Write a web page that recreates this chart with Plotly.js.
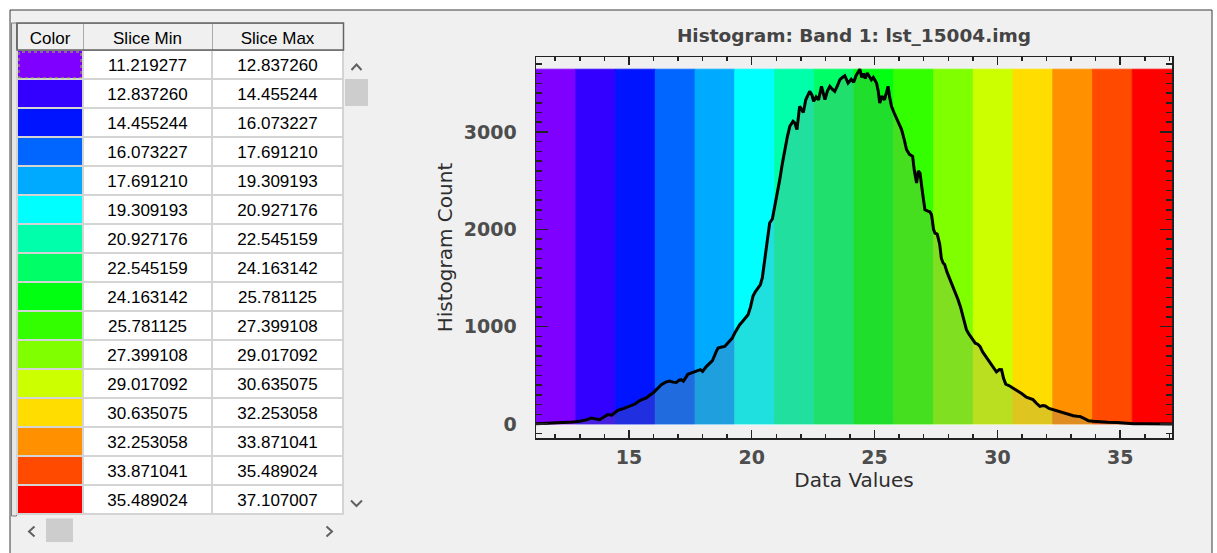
<!DOCTYPE html>
<html>
<head>
<meta charset="utf-8">
<script src="https://cdn.plot.ly/plotly-3.0.1.min.js"></script>
<style>
  html, body { margin: 0; padding: 0; background: #ffffff; }
  #chart { width: 1217px; height: 553px; }
</style>
</head>
<body>
<div id="chart"></div>
<script>
// Density slice ranges and their colours
const sliceMin = [11.219277, 12.837260, 14.455244, 16.073227, 17.691210, 19.309193, 20.927176, 22.545159,
                  24.163142, 25.781125, 27.399108, 29.017092, 30.635075, 32.253058, 33.871041, 35.489024];
const sliceMax = [12.837260, 14.455244, 16.073227, 17.691210, 19.309193, 20.927176, 22.545159, 24.163142,
                  25.781125, 27.399108, 29.017092, 30.635075, 32.253058, 33.871041, 35.489024, 37.107007];
const sliceColors = ['#7f00ff', '#3300ff', '#0014ff', '#0066ff', '#00aaff', '#00ffff', '#00ffaa', '#00ff66',
                     '#00ff11', '#33ff00', '#80ff00', '#ccff00', '#ffdd00', '#ff9100', '#ff4a00', '#ff0000'];
const tableHeader = ['Color', 'Slice Min', 'Slice Max'];

// Histogram of band 1 (data value, pixel count)
const histX = [11.22, 11.6, 11.91, 12.3, 12.72, 13.0, 13.13, 13.3, 13.47, 13.65, 13.81, 14.0, 14.14, 14.3, 14.45,
  14.55, 14.8, 15.03, 15.25, 15.44, 15.6, 15.71, 15.85, 15.98, 16.15, 16.32, 16.5, 16.66, 16.8, 16.93, 17.05,
  17.13, 17.22, 17.4, 17.55, 17.67, 17.8, 17.91, 18.0, 18.15, 18.29, 18.4, 18.55, 18.63, 18.78, 18.9, 19.0,
  19.1, 19.2, 19.31, 19.4, 19.51, 19.65, 19.85, 19.95, 20.05, 20.15, 20.25, 20.35, 20.43, 20.5, 20.57, 20.65,
  20.73, 20.84, 20.94, 21.0, 21.14, 21.25, 21.34, 21.45, 21.55, 21.68, 21.76, 21.84, 21.95, 22.03, 22.1, 22.2,
  22.36, 22.45, 22.52, 22.62, 22.72, 22.84, 22.91, 22.98, 23.08, 23.18, 23.28, 23.38, 23.48, 23.59, 23.69,
  23.79, 23.92, 24.05, 24.15, 24.25, 24.4, 24.48, 24.55, 24.62, 24.7, 24.8, 24.87, 24.95, 25.08, 25.15, 25.21,
  25.3, 25.4, 25.48, 25.55, 25.62, 25.69, 25.79, 25.89, 26.0, 26.1, 26.2, 26.3, 26.42, 26.55, 26.62, 26.71,
  26.78, 26.85, 26.95, 27.05, 27.15, 27.25, 27.32, 27.4, 27.46, 27.55, 27.65, 27.72, 27.79, 27.85, 27.95,
  28.05, 28.13, 28.25, 28.4, 28.5, 28.6, 28.74, 28.85, 29.01, 29.1, 29.2, 29.29, 29.4, 29.56, 29.69, 29.85,
  29.96, 30.08, 30.17, 30.25, 30.34, 30.5, 30.64, 30.75, 30.9, 31.0, 31.18, 31.3, 31.45, 31.6, 31.73, 31.85,
  31.95, 32.1, 32.27, 32.45, 32.68, 32.85, 32.95, 33.09, 33.25, 33.36, 33.5, 33.6, 33.7, 33.9, 34.18, 34.5,
  34.86, 35.2, 35.54, 36.0, 36.5, 37.1];
const histY = [2, 5, 8, 12, 20, 28, 34, 45, 62, 50, 44, 75, 96, 90, 125,
  140, 160, 181, 205, 240, 255, 267, 295, 318, 360, 404, 430, 440, 430, 427, 450,
  455, 440, 510, 525, 540, 548, 558, 540, 590, 627, 650, 740, 781, 790, 797, 825,
  849, 880, 935, 975, 1020, 1060, 1123, 1200, 1311, 1360, 1397, 1430, 1500, 1620, 1757, 1900,
  2065, 2106, 2236, 2290, 2510, 2680, 2818, 2950, 3058, 3109, 3090, 3024, 3263, 3220, 3200, 3330,
  3417, 3380, 3315, 3360, 3330, 3469, 3400, 3332, 3420, 3469, 3440, 3417, 3470, 3537, 3560,
  3578, 3503, 3540, 3510, 3580, 3645, 3560, 3600, 3550, 3606, 3560, 3537, 3560, 3503, 3420, 3298,
  3370, 3330, 3400, 3469, 3350, 3263, 3200, 3144, 3080, 3024, 2930, 2820, 2770, 2750, 2600, 2476,
  2600, 2578, 2380, 2202, 2190, 2180, 2150, 2000, 1961, 1950, 1850, 1700, 1654, 1640, 1560,
  1500, 1449, 1370, 1277, 1200, 1100, 969, 920, 866, 830, 820, 797, 740, 680, 640, 580,
  535, 560, 558, 470, 410, 390, 369, 350, 330, 310, 275, 265, 250, 210, 181, 190,
  185, 160, 147, 130, 112, 100, 96, 85, 80, 78, 61, 50, 34, 28, 20, 17,
  16, 8, 3, 2, 1, 0];

const W = 1217, H = 553;
const px = v => v / W;
const py = v => 1 - v / H;

// Slice bands span zero to the histogram maximum
const bandTop = Math.max(...histY);
const bandMid = sliceMin.map((m, i) => (m + sliceMax[i]) / 2);
const bandWidth = sliceMin.map((m, i) => sliceMax[i] - m);

const bands = {
  type: 'bar',
  x: bandMid,
  y: sliceMin.map(() => bandTop),
  width: bandWidth,
  base: 0,
  marker: { color: sliceColors, line: { color: sliceColors, width: 0.8 } },
  hoverinfo: 'skip',
  showlegend: false,
  xaxis: 'x', yaxis: 'y'
};

const histogram = {
  type: 'scatter',
  mode: 'lines',
  x: histX,
  y: histY,
  fill: 'tozeroy',
  fillcolor: 'rgba(128,128,128,0.25)',
  line: { color: '#000000', width: 3 },
  hoverinfo: 'skip',
  showlegend: false,
  xaxis: 'x', yaxis: 'y'
};

// Slice table
const blankCol = sliceMin.map(() => '');
const whiteCol = sliceMin.map(() => '#ffffff');
const table = {
  type: 'table',
  domain: { x: [px(17), px(343)], y: [py(516), py(23)] },
  columnwidth: [66, 129, 131],
  header: {
    values: tableHeader,
    height: 27,
    align: 'center',
    fill: { color: '#f0f0f0' },
    line: { color: '#a9a9a9', width: 1 },
    font: { family: 'Liberation Sans, Arial, sans-serif', size: 17, color: '#000000' }
  },
  cells: {
    values: [blankCol, sliceMin.map(v => v.toFixed(6)), sliceMax.map(v => v.toFixed(6))],
    height: 29,
    align: 'center',
    fill: { color: [sliceColors, whiteCol, whiteCol] },
    line: { color: '#d4d4d4', width: 1.5 },
    font: { family: 'Liberation Sans, Arial, sans-serif', size: 17, color: '#000000' }
  }
};

// Window chrome: frame, row stub, scroll bars
const chevron = pts => 'M' + pts.map(p => px(p[0]) + ',' + py(p[1])).join(' L');
const chrome = [
  { type: 'rect', xref: 'paper', yref: 'paper', x0: px(10), x1: px(1212), y0: py(560), y1: py(10),
    fillcolor: '#f0f0f0', line: { color: '#3a3a3a', width: 1 }, layer: 'below' },
  { type: 'rect', xref: 'paper', yref: 'paper', x0: px(11.5), x1: px(16.5), y0: py(516), y1: py(23),
    fillcolor: '#e6e6e6', line: { color: '#7a7a7a', width: 1 }, layer: 'below' },
  { type: 'rect', xref: 'paper', yref: 'paper', x0: px(345), x1: px(368), y0: py(106), y1: py(79),
    fillcolor: '#cdcdcd', line: { width: 0 } },
  { type: 'rect', xref: 'paper', yref: 'paper', x0: px(46), x1: px(73), y0: py(542), y1: py(518.5),
    fillcolor: '#cdcdcd', line: { width: 0 } },
  { type: 'path', xref: 'paper', yref: 'paper', path: chevron([[351.5, 70], [356.5, 64.5], [361.5, 70]]),
    line: { color: '#606060', width: 2 } },
  { type: 'path', xref: 'paper', yref: 'paper', path: chevron([[351, 500.5], [356.5, 506], [362, 500.5]]),
    line: { color: '#606060', width: 2 } },
  { type: 'path', xref: 'paper', yref: 'paper', path: chevron([[34.5, 526.5], [29, 531.5], [34.5, 536.5]]),
    line: { color: '#606060', width: 2 } },
  { type: 'path', xref: 'paper', yref: 'paper', path: chevron([[326.5, 526.5], [332, 531.5], [326.5, 536.5]]),
    line: { color: '#606060', width: 2 } },
  // header outline and focus rectangle on the first swatch
  { type: 'rect', xref: 'paper', yref: 'paper', x0: px(17), x1: px(343.5), y0: py(50), y1: py(23),
    line: { color: '#646464', width: 1.5 } },
  { type: 'rect', xref: 'paper', yref: 'paper', x0: px(19), x1: px(81), y0: py(78), y1: py(52),
    line: { color: '#9acd32', width: 1, dash: 'dot' } }
];

const axisFont = { family: 'DejaVu Sans, sans-serif', size: 19, color: '#4d4d4d', weight: 'bold' };
const titleFont = { family: 'DejaVu Sans, sans-serif', size: 20, color: '#2e2e2e' };

const layout = {
  width: W, height: H,
  margin: { l: 0, r: 0, t: 0, b: 0 },
  paper_bgcolor: '#ffffff',
  plot_bgcolor: '#f0f0f0',
  showlegend: false,
  barmode: 'overlay',
  title: {
    text: 'Histogram: Band 1: lst_15004.img',
    x: px(854), xanchor: 'center', xref: 'paper',
    y: py(36), yanchor: 'middle', yref: 'paper',
    font: { family: 'DejaVu Sans, sans-serif', size: 18.5, color: '#444444', weight: 'bold' }
  },
  xaxis: {
    domain: [px(536), px(1172)],
    range: [11.219277, 37.107007],
    tickmode: 'linear', tick0: 15, dtick: 5,
    ticks: 'inside', ticklen: 8, tickwidth: 1.5, tickcolor: '#222222',
    minor: { ticks: 'inside', dtick: 1, ticklen: 4, tickwidth: 1.5, tickcolor: '#222222' },
    showline: true, linecolor: '#222222', linewidth: 1.5, mirror: 'allticks',
    showgrid: false, zeroline: false,
    tickfont: axisFont, ticklabelstandoff: 2,
    title: { text: 'Data Values', font: titleFont, standoff: 4 }
  },
  yaxis: {
    domain: [py(438), py(57)],
    range: [-144, 3770],
    tickmode: 'linear', tick0: 0, dtick: 1000,
    ticks: 'inside', ticklen: 12, tickwidth: 1.5, tickcolor: '#222222',
    minor: { ticks: 'inside', dtick: 100, ticklen: 6, tickwidth: 1.5, tickcolor: '#222222' },
    showline: true, linecolor: '#222222', linewidth: 1.5, mirror: 'allticks',
    showgrid: false, zeroline: false,
    tickfont: axisFont, ticklabelstandoff: 14,
    title: { text: 'Histogram Count', font: titleFont, standoff: 6 }
  },
  shapes: chrome
};

Plotly.newPlot('chart', [bands, histogram, table], layout, { displayModeBar: false, staticPlot: true });
</script>
</body>
</html>
